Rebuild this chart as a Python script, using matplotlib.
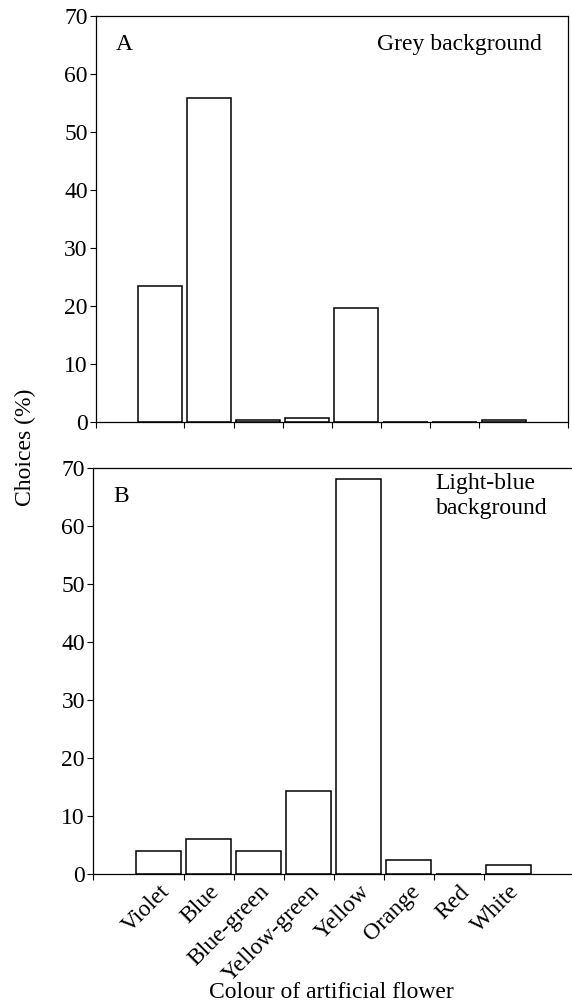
import numpy as np
import matplotlib
matplotlib.use('Agg')
from matplotlib import pyplot as plt

colours = ['Violet', 'Blue', 'Blue-green', 'Yellow-green', 'Yellow', 'Orange', 'Red', 'White']
grey_bg = [23.5, 55.8, 0.5, 0.7, 19.7, 0.0, 0.0, 0.5]
blue_bg = [4.1, 6.0, 4.1, 14.4, 68.0, 2.5, 0.0, 1.6]

plt.rcParams['font.family'] = ['Liberation Serif', 'DejaVu Serif']
plt.rcParams['font.size'] = 17

fig = plt.figure(figsize=(5.72, 10.08), dpi=100)
ax1 = fig.add_axes([0.1678, 0.5809, 0.8252, 0.4037])
ax2 = fig.add_axes([0.1631, 0.1326, 0.8369, 0.4034])

x = np.arange(len(colours))

for ax, vals, lim in [(ax1, grey_bg, (-1.30, 8.31)), (ax2, blue_bg, (-1.31, 8.26))]:
    ax.bar(x, vals, width=0.9, color='white', edgecolor='black', linewidth=1.1)
    ax.set_xlim(*lim)
    ax.set_ylim(0, 70)
    ax.set_yticks(range(0, 71, 10))
    ax.tick_params(axis='both', which='major', direction='out', length=4, width=0.8, pad=2)
    bounds = [lim[0]] + list(x[:-1] + 0.5)
    if ax is ax1:
        bounds.append(lim[1])
    ax.set_xticks(bounds)
    ax.set_xticklabels([])
    for s in ax.spines.values():
        s.set_linewidth(0.9)

ax2.spines['right'].set_visible(False)
ax2.set_xticks(x, minor=True)
ax2.set_xticklabels(colours, minor=True, rotation=45, ha='right', va='top',
                    rotation_mode='anchor')
ax2.tick_params(axis='x', which='minor', length=0, pad=5)

ax1.text(0.042, 0.93, 'A', transform=ax1.transAxes, ha='left', va='center')
ax1.text(0.945, 0.93, 'Grey background', transform=ax1.transAxes, ha='right', va='center')
ax2.text(0.042, 0.93, 'B', transform=ax2.transAxes, ha='left', va='center')
ax2.text(0.715, 0.93, 'Light-blue\nbackground', transform=ax2.transAxes, ha='left', va='center',
         linespacing=1.25)

fig.text(0.044, 0.5565, 'Choices (%)', rotation=90, ha='center', va='center')
fig.text(0.58, 0.0149, 'Colour of artificial flower', ha='center', va='center')

fig.savefig('out.png', dpi=100)
